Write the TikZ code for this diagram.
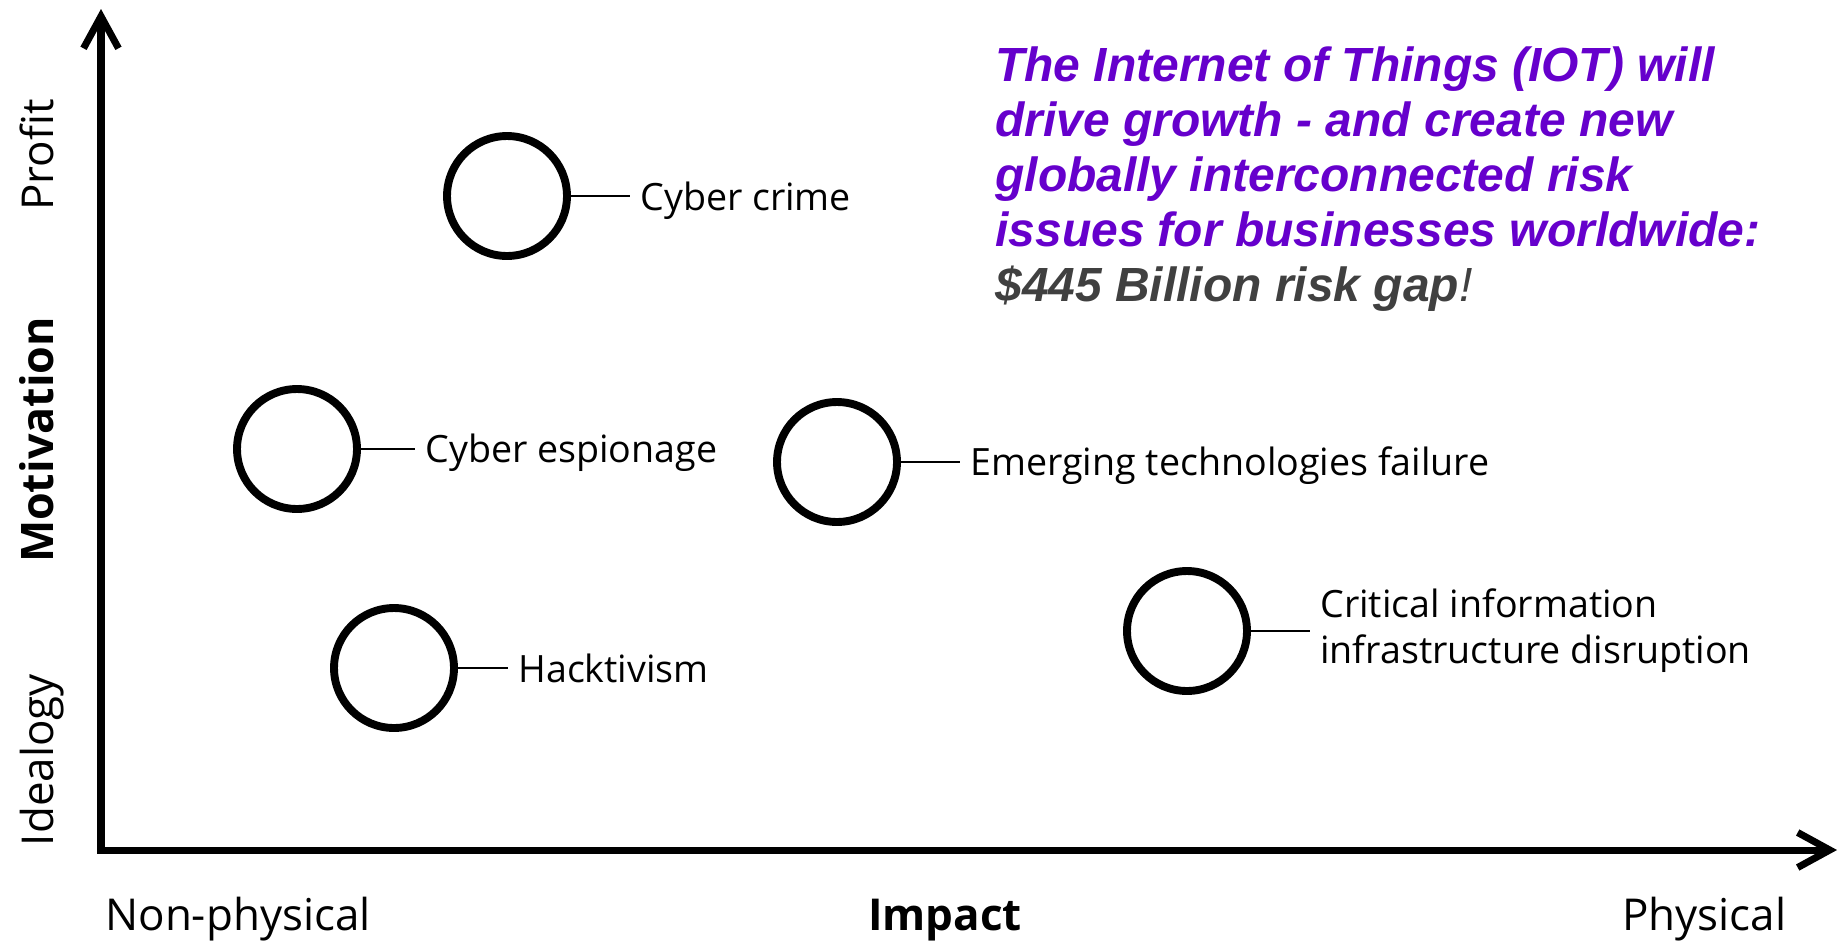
\documentclass[tikz,border=0pt]{standalone}
\usepackage{fontspec}
\setmainfont{Open Sans}
\newfontfamily\notefont{Liberation Sans}
\usepackage{tikz}
\usetikzlibrary{arrows.meta}
\usetikzlibrary{calc}
\definecolor{iotpurple}{RGB}{102,0,204}
\definecolor{gapgray}{RGB}{64,64,64}

\begin{document}
\begin{tikzpicture}[x=0.02cm, y=-0.02cm,
  risk/.style={circle, draw, line width=4.5pt, minimum size=2.4cm, inner sep=0pt},
  lbl/.style={font=\fontsize{21.4}{26.2}\selectfont, inner xsep=0.2cm, inner ysep=0pt},
  axlbl/.style={font=\fontsize{25}{30}\selectfont, inner sep=0pt},
  link/.style={line width=1.4pt},
  axis/.style={line width=4pt, {Straight Barb[length=0.64cm,width=0.7cm]}-{Straight Barb[length=0.64cm,width=0.7cm]}}
]
\useasboundingbox (0,0) rectangle (1839,947);

% axes
\coordinate (origin) at (101,850);
\coordinate (ytop) at (101,9);
\coordinate (xend) at (1837,850);
\draw[axis] (ytop) -- (origin) -- (xend);

\node[axlbl, anchor=base west] (nonphys) at (105,930) {Non-physical};
\node[axlbl, anchor=base, font=\fontsize{25}{30}\selectfont\bfseries] (impact) at (945,930) {Impact};
\node[axlbl, anchor=base west] (phys) at (1622,930) {Physical};
\node[axlbl, anchor=base, rotate=90] (profit) at (53,155) {Profit};
\node[axlbl, anchor=base, rotate=90, font=\fontsize{25.5}{30}\selectfont\bfseries] (motiv) at (53,440) {Motivation};
\node[axlbl, anchor=base, rotate=90] (ideal) at (53,760) {Idealogy};

% risks
\node[risk] (crime) at (507,196) {};
\node[risk] (espion) at (297,449) {};
\node[risk] (hack) at (394,668) {};
\node[risk] (emerg) at (837,462) {};
\node[risk] (crit) at (1187,631) {};

\node[lbl, anchor=base west] (crimelbl) at (630,210) {Cyber crime};
\node[lbl, anchor=base west] (espionlbl) at (415,462) {Cyber espionage};
\node[lbl, anchor=base west] (hacklbl) at (508,682) {Hacktivism};
\node[lbl, anchor=base west] (emerglbl) at (960,475) {Emerging technologies failure};
\node[lbl, anchor=west, align=left] (critlbl) at (1310,631) {Critical information\\infrastructure disruption};

\draw[link] (crime.east) -- (crime.east -| crimelbl.west);
\draw[link] (espion.east) -- (espion.east -| espionlbl.west);
\draw[link] (hack.east) -- (hack.east -| hacklbl.west);
\draw[link] (emerg.east) -- (emerg.east -| emerglbl.west);
\draw[link] (crit.east) -- (crit.east -| critlbl.west);

% note
\node[anchor=north west, inner sep=0pt, align=left, text=iotpurple,
  font=\notefont\bfseries\itshape\fontsize{27.3}{31.3}\selectfont] (note) at (995,46)
  {The Internet of Things (IOT) will\\
   drive growth - and create new\\
   globally interconnected risk\\
   issues for businesses worldwide:\\
   \textcolor{gapgray}{\$445 Billion risk gap{\mdseries!}}};
\end{tikzpicture}
\end{document}
